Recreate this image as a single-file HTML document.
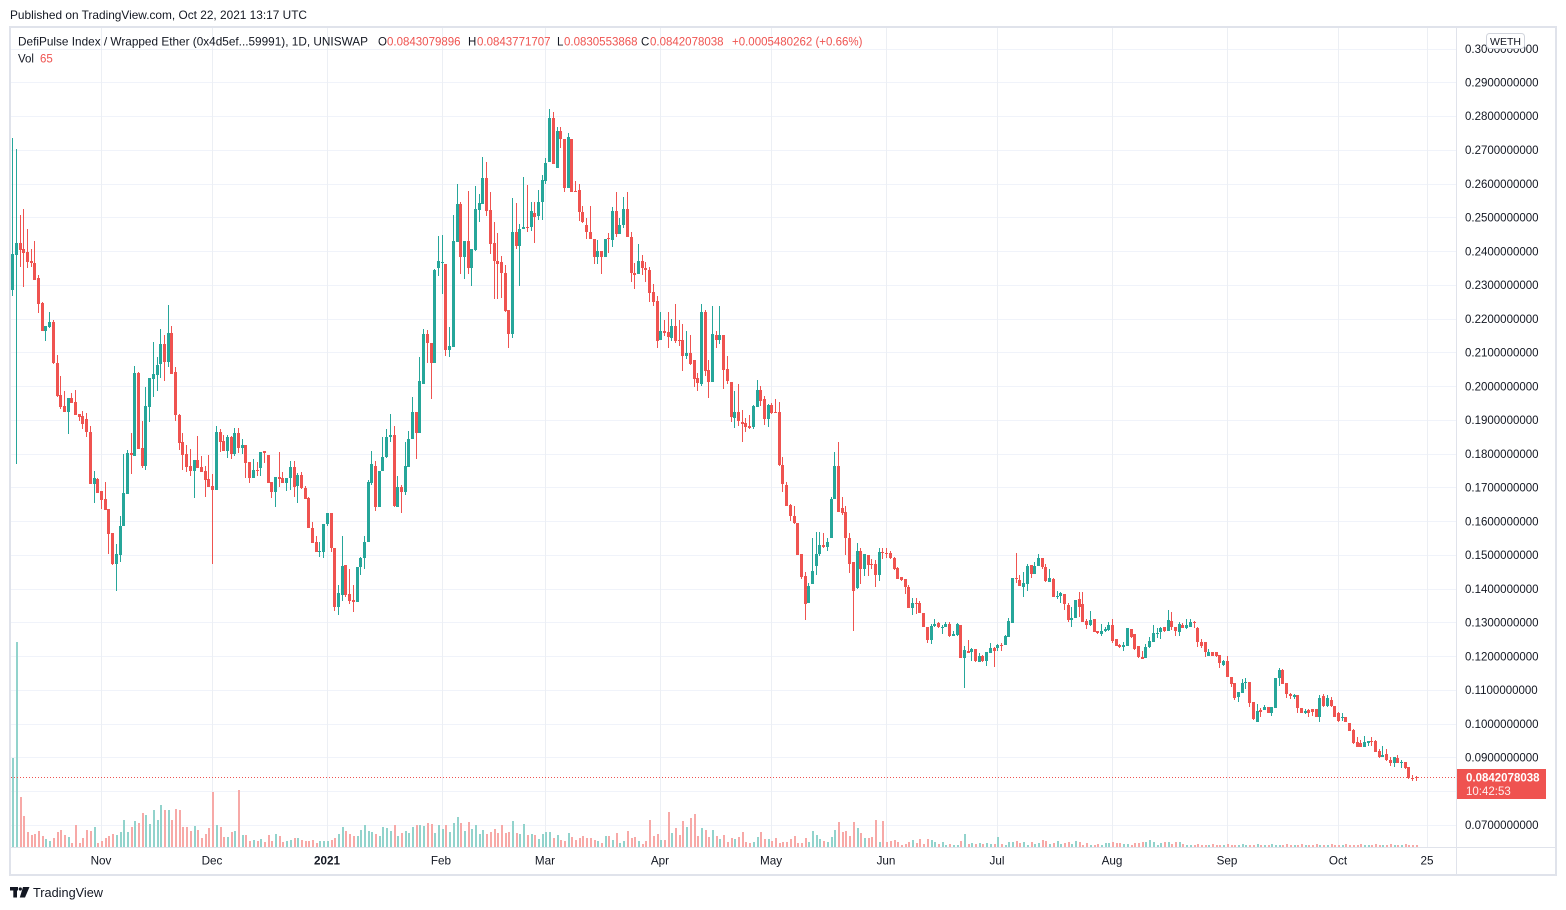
<!DOCTYPE html>
<html><head><meta charset="utf-8">
<style>
html,body{margin:0;padding:0;background:#fff;width:1566px;height:910px;overflow:hidden}
svg{display:block}
text{font-family:"Liberation Sans",Arial,sans-serif}
</style></head><body>
<svg id="s" width="1566" height="910" viewBox="0 0 1566 910" xmlns="http://www.w3.org/2000/svg">
<rect width="1566" height="910" fill="#fff"/>
<g id="grid" shape-rendering="crispEdges"></g>
<g id="vol" shape-rendering="crispEdges"></g>
<line x1="11" y1="777.5" x2="1456" y2="777.5" stroke="#ef5350" stroke-width="1" stroke-dasharray="1 2"/>
<g id="cdl" shape-rendering="crispEdges"></g>

<!-- frame -->
<g shape-rendering="crispEdges">
<rect x="10" y="27" width="1546" height="848" fill="none" stroke="#e0e3eb" stroke-width="2"/>
<line x1="1456.5" y1="28" x2="1456.5" y2="874" stroke="#e0e3eb" stroke-width="1"/>
<line x1="11" y1="847.5" x2="1555" y2="847.5" stroke="#e0e3eb" stroke-width="1"/>
</g>

<!-- header -->
<text x="10" y="19" font-size="12" fill="#131722" textLength="297" lengthAdjust="spacingAndGlyphs">Published on TradingView.com, Oct 22, 2021 13:17 UTC</text>

<!-- legend -->
<text x="18" y="45.5" font-size="11.8" fill="#131722" textLength="350" lengthAdjust="spacingAndGlyphs">DefiPulse Index / Wrapped Ether (0x4d5ef...59991), 1D, UNISWAP</text>
<text x="378" y="45.5" font-size="11.5" fill="#131722">O</text>
<text x="387" y="45.5" font-size="11.5" fill="#ef5350">0.0843079896</text>
<text x="468" y="45.5" font-size="11.5" fill="#131722">H</text>
<text x="477" y="45.5" font-size="11.5" fill="#ef5350">0.0843771707</text>
<text x="557" y="45.5" font-size="11.5" fill="#131722">L</text>
<text x="564" y="45.5" font-size="11.5" fill="#ef5350">0.0830553868</text>
<text x="641" y="45.5" font-size="11.5" fill="#131722">C</text>
<text x="650" y="45.5" font-size="11.5" fill="#ef5350">0.0842078038</text>
<text x="732" y="45.5" font-size="11.5" fill="#ef5350">+0.0005480262 (+0.66%)</text>
<text x="18" y="62.5" font-size="11.5" fill="#131722">Vol</text>
<text x="40" y="62.5" font-size="11.5" fill="#ef5350">65</text>

<!-- price axis labels -->
<g font-size="11.5" fill="#131722">
<text x="1465" y="53">0.3000000000</text>
<text x="1465" y="86.5">0.2900000000</text>
<text x="1465" y="120">0.2800000000</text>
<text x="1465" y="154">0.2700000000</text>
<text x="1465" y="188">0.2600000000</text>
<text x="1465" y="221.5">0.2500000000</text>
<text x="1465" y="255.5">0.2400000000</text>
<text x="1465" y="289">0.2300000000</text>
<text x="1465" y="323">0.2200000000</text>
<text x="1465" y="356.5">0.2100000000</text>
<text x="1465" y="390.5">0.2000000000</text>
<text x="1465" y="424">0.1900000000</text>
<text x="1465" y="458">0.1800000000</text>
<text x="1465" y="491.5">0.1700000000</text>
<text x="1465" y="525.5">0.1600000000</text>
<text x="1465" y="559">0.1500000000</text>
<text x="1465" y="593">0.1400000000</text>
<text x="1465" y="626.5">0.1300000000</text>
<text x="1465" y="660.5">0.1200000000</text>
<text x="1465" y="694">0.1100000000</text>
<text x="1465" y="728">0.1000000000</text>
<text x="1465" y="761.5">0.0900000000</text>
<text x="1465" y="829">0.0700000000</text>
</g>

<!-- WETH badge -->
<rect x="1486.5" y="33.5" width="38" height="15" rx="3" ry="3" fill="#fff" stroke="#d1d4dc" stroke-width="1"/>
<text x="1505.5" y="45" font-size="10.5" fill="#131722" text-anchor="middle">WETH</text>

<!-- current price label -->
<rect x="1457" y="769" width="89" height="30" fill="#ef5350"/>
<text x="1466" y="781.5" font-size="11.5" font-weight="bold" fill="#fff">0.0842078038</text>
<text x="1466" y="795" font-size="11.5" fill="#fff" fill-opacity="0.9">10:42:53</text>

<!-- time axis -->
<g font-size="11.7" fill="#131722" text-anchor="middle">
<text x="101" y="864.5">Nov</text>
<text x="212" y="864.5">Dec</text>
<text x="327" y="864.5" font-weight="bold">2021</text>
<text x="441" y="864.5">Feb</text>
<text x="545" y="864.5">Mar</text>
<text x="660" y="864.5">Apr</text>
<text x="771" y="864.5">May</text>
<text x="886" y="864.5">Jun</text>
<text x="997" y="864.5">Jul</text>
<text x="1112" y="864.5">Aug</text>
<text x="1227" y="864.5">Sep</text>
<text x="1338" y="864.5">Oct</text>
<text x="1427" y="864.5">25</text>
</g>

<!-- footer logo -->
<g fill="#131722">
<rect x="10" y="887" width="8" height="3.5"/>
<rect x="13.3" y="887" width="3.7" height="10.5"/>
<circle cx="20.3" cy="889" r="1.6"/>
<polygon points="23,887 29.5,887 25,897.5 19.8,897.5"/>
</g>
<text x="33" y="897" font-size="13" fill="#131722" textLength="70" lengthAdjust="spacingAndGlyphs">TradingView</text>
</svg>
<script>
(function(){
var segs=[
{x0:0,y0:100,s:3,d:[[37,570,462,113,588],[49,464,430,147,1092],[58,430,450,345,500],[70,447,458,327,560],[82,456,485,387,503],[91,483,490,447,500],[103,489,540,423,540],[115,534,611,525,638],[127,608,692,605,692],[136,692,678,678,722],[148,681,666,636,684],[160,666,789,660,792],[169,789,887,765,890],[181,885,920,828,926],[193,918,935,873,935],[202,935,894,894,1001],[214,894,908,879,908],[226,906,944,870,944],[238,941,950,941,962],[247,948,972,933,986],[259,957,996,939,1010],[271,996,1151,978,1151],[280,1151,1134,1113,1208],[292,1137,1178,1134,1178],[304,1173,1200,1173,1226],[316,1197,1229,1146,1229],[325,1227,1301,1227,1361],[337,1299,1391,1299,1394],[349,1391,1361,1331,1472],[358,1364,1278,1248,1385],[370,1277,1179,1062,1277],[382,1181,1059,1050,1181],[391,1059,1066,998,1121],[403,1067,819,798,1067],[415,819,1046,816,1046],[427,1044,1098,963,1103],[436,1098,918,861,1109],[448,920,834,834,965],[460,836,822,726,890],[469,824,795,771,872],[481,791,732,687,833],[493,732,786,705,843],[505,786,699,615,800],[514,699,821,678,821],[526,816,944,801,962],[538,944,1028,941,1049],[547,1026,1064,998,1109],[559,1062,1100,1035,1115],[571,1098,1112,1047,1127],[580,1112,1080,1080,1193],[592,1080,1103,1008,1103],[604,1101,1115,1068,1115],[616,1113,1139,1098,1190],[625,1137,1160,1065,1160],[637,1158,1169,1122,1391],[649,1169,996,978,1169],[658,996,1025,987,1055],[670,1023,1052,1005,1052],[682,1052,1011,1005,1073],[694,1011,1061,1008,1076],[703,1061,999,984,1067],[715,999,1043,984,1058],[727,1043,1035,1017,1061]]},
{x0:240,y0:100,s:3,d:[[16,1035,1088,1035,1133],[28,1087,1135,1087,1150],[40,1135,1110,1078,1135],[50,1110,1112,1087,1127],[62,1103,1057,1057,1127],[73,1053,1058,1053,1088],[85,1065,1150,1065,1150],[95,1147,1175,1147,1195],[106,1175,1132,1132,1222],[118,1132,1136,1057,1160],[128,1135,1148,1117,1150],[140,1148,1135,1135,1172],[151,1135,1102,1083,1170],[160,1102,1160,1083,1192],[172,1157,1125,1120,1210],[184,1125,1165,1117,1168],[196,1165,1198,1158,1198],[206,1193,1285,1190,1285],[217,1285,1328,1265,1330],[229,1327,1355,1307,1355],[239,1357,1353,1327,1372],[250,1355,1273,1273,1375],[262,1273,1240,1240,1278],[274,1240,1345,1240,1357],[284,1345,1520,1345,1532],[295,1520,1480,1455,1545],[307,1485,1398,1308,1502],[316,1395,1485,1395,1490],[328,1482,1502,1407,1512],[340,1500,1507,1455,1535],[350,1507,1402,1402,1507],[361,1402,1375,1370,1425],[373,1375,1327,1307,1408],[385,1325,1147,1140,1325],[394,1148,1092,1052,1155],[406,1098,1222,1083,1233],[418,1222,1113,1113,1222],[428,1113,1072,1012,1113],[439,1072,1012,987,1075],[450,1012,1005,942,1025],[462,1005,1218,977,1222],[472,1220,1160,1127,1222],[484,1160,1175,1155,1240],[496,1175,1098,1025,1185],[505,1100,1018,993,1102],[517,1018,935,890,1018],[529,935,998,935,1078],[539,998,843,770,998],[550,853,702,687,853],[562,702,730,690,790],[574,730,790,730,898],[584,790,510,507,790],[596,505,483,407,527],[607,488,486,405,583],[616,492,750,492,767],[628,750,738,680,770],[640,740,423,345,742],[652,425,312,252,425],[662,312,470,305,523],[673,470,423,423,538],[685,423,503,272,523],[695,503,447,447,557],[706,450,327,258,452],[718,330,310,282,365],[728,312,234,170,312],[740,234,332,185,347],[751,330,432,275,462],[762,430,483,365,598],[773,483,492,398,598],[784,487,520,467,595],[796,520,633,495,635],[805,630,702,630,745],[817,702,397,293,715],[829,397,437,308,448],[839,437,387,372,558],[850,387,380,230,387],[862,382,383,255,397],[873,382,333,305,392],[884,340,352,305,430],[896,347,307,270,360],[907,307,240,225,360],[916,242,188,173,252],[928,185,54,27,185],[940,54,193,37,193],[952,203,93,80,205],[962,93,118,80,143],[974,117,265,117,277],[985,265,112,98,265],[995,117,275,117,277],[1007,273,275,243,277],[1018,270,335,252,362],[1028,335,365,318,368],[1040,375,397,355,418],[1051,397,418,318,418],[1062,418,472,418,493],[1073,472,453,420,493],[1085,453,472,453,522],[1096,472,418,418,472],[1106,413,418,398,460],[1118,420,333,322,442],[1130,333,403,277,410],[1140,403,375,355,403],[1151,375,327,292,385],[1162,327,412,277,412],[1174,410,520,397,545],[1184,518,525,488,568],[1196,522,483,433,522]]},
{x0:0,y0:0,s:1,d:[[641.7,261,268,255,275],[645.4,268,270,262,282]]},
{x0:620,y0:280,s:3,d:[[88,-30,38,-40,65],[100,37,65,12,77],[112,63,182,48,203],[121,180,153,96,180],[133,153,158,120,167],[145,155,170,96,203],[154,173,138,117,182],[166,138,182,72,190],[178,180,182,120,197],[190,180,227,132,272],[199,227,219,153,237],[211,219,252,165,255],[223,240,297,240,320],[232,293,308,278,332],[244,312,96,72,317],[256,96,272,90,287],[265,270,305,240,353],[277,305,162,78,305],[289,165,180,153,203],[301,180,165,78,192],[310,165,270,165,328],[322,267,302,228,313],[334,307,410,307,425],[343,413,397,333,443],[355,397,422,312,437],[367,427,432,390,485],[376,430,440,413,455],[388,438,443,405,447],[400,440,378,375,447],[412,380,330,300,380],[421,330,362,318,377],[433,357,417,348,435],[445,417,375,372,440],[454,375,398,368,402],[466,397,398,357,400],[478,397,555,367,557],[490,555,613,530,635],[499,615,677,607,677],[511,675,707,672,722],[523,708,730,678,733],[532,730,825,730,825],[544,822,890,822,897],[556,887,973,875,1020],[565,968,917,910,968],[577,913,873,775,913],[589,857,822,757,885],[601,823,795,757,827],[610,795,800,758,805],[622,800,787,773,813],[634,775,657,650,775],[643,657,558,517,657],[655,558,697,487,697],[667,685,700,652,705],[679,697,773,677,825],[688,773,852,760,880],[700,847,932,845,1052],[712,925,813,790,927],[721,813,868,803,913],[733,868,822,822,887],[745,825,855,825,888],[754,853,855,838,867],[766,853,885,840,920],[778,885,817,803,902],[790,817,818,803,838],[799,818,820,803,835],[811,818,835,812,837],[823,833,867,830,870],[832,865,897,860,897],[844,890,900,890,903],[856,897,922,897,942],[865,920,983,915,985],[877,983,970,955,1005],[889,970,970,955,1003],[901,968,998,963,998],[910,998,1040,998,1040],[922,1040,1080,1040,1088],[934,1080,1037,1033,1092],[943,1037,1033,1018,1040],[955,1030,1040,1027,1045],[967,1045,1040,1035,1062],[979,1040,1033,1025,1040],[988,1033,1068,1025,1072],[1000,1068,1063,1053,1068],[1012,1065,1033,1028,1068],[1021,1035,1133,1035,1133],[1033,1135,1110,1097,1223],[1045,1113,1118,1080,1120],[1054,1115,1108,1105,1143],[1066,1108,1143,1108,1145],[1078,1145,1128,1120,1145],[1090,1128,1142,1125,1145],[1099,1142,1117,1117,1157],[1111,1118,1105,1090,1118],[1123,1103,1112,1100,1160],[1132,1105,1095,1093,1112],[1144,1095,1095,1090,1112],[1156,1095,1068,1065,1095],[1168,1070,1023,1013,1072],[1177,1028,893,893,1028]]},
{x0:1000,y0:540,s:3,d:[[49,113,118,38,128],[61,120,137,105,137],[70,140,128,97,170],[82,133,77,73,152],[94,75,103,75,113],[103,101,78,67,101],[115,77,55,42,77],[127,55,80,55,87],[139,80,122,72,125],[148,125,113,87,127],[160,117,170,113,170],[172,172,168,152,178],[181,168,160,157,188],[193,162,193,162,210],[205,195,240,190,245],[217,240,235,200,260],[226,233,180,180,235],[238,178,200,157,230],[250,193,245,157,245],[259,242,255,237,268],[271,255,240,213,257],[283,238,277,238,277],[292,273,280,273,282],[304,282,273,253,287],[316,272,267,262,277],[328,270,255,245,272],[337,255,303,237,308],[349,298,317,298,318],[361,315,320,312,325],[370,320,315,305,332],[382,317,265,263,317],[394,268,292,268,295],[406,283,327,283,330],[415,318,352,318,353],[427,350,358,333,358],[439,353,320,312,353],[448,322,302,292,325],[460,305,280,255,305],[472,280,278,265,295],[481,277,265,262,298],[493,262,272,260,275],[505,272,240,210,272],[517,242,260,215,270],[526,262,272,262,287],[538,275,252,247,287],[550,255,263,248,265],[559,263,255,237,267],[571,260,245,237,262],[583,245,250,243,265],[595,265,307,262,320],[604,307,318,297,325],[616,307,337,307,352],[628,348,335,327,348],[637,335,347,335,347],[649,337,348,335,350],[661,345,368,345,385],[670,375,363,360,378],[682,363,410,348,410],[694,410,432,410,440],[706,430,473,428,480],[715,470,457,455,485],[727,460,428,418,460],[739,430,425,415,448],[748,425,488,425,500],[760,487,538,487,540],[772,545,512,493,545],[781,510,515,505,530],[793,510,502,495,510],[805,502,518,502,518],[817,518,500,500,527],[826,503,415,415,505],[838,415,390,383,437],[850,390,432,387,432],[859,430,463,430,473],[871,463,467,460,478],[883,470,465,462,478],[895,465,505,465,518],[904,505,520,505,520],[916,518,512,507,522],[928,510,518,508,530],[937,508,515,508,528],[949,507,532,507,532],[961,532,475,465,545],[970,468,497,463,500],[982,498,475,465,500],[994,480,498,470,502],[1006,498,532,498,532],[1015,518,542,515,545],[1027,533,532,520,542],[1039,532,545,532,545],[1048,548,572,548,572],[1060,570,610,567,612],[1072,607,620,590,620],[1084,608,620,600,622],[1093,622,605,588,622],[1105,610,603,603,618],[1117,603,605,592,618],[1126,603,635,600,637],[1138,632,650,628,655],[1150,650,645,618,652],[1159,642,660,628,663],[1171,660,668,650,677],[1183,668,652,652,680],[1195,655,668,645,670],[1204,670,665,660,683],[1216,667,685,667,687],[1228,682,715,682,717],[1237,715,716,705,722],[1249,710,711,709,723]]}
];
var N=380,X0=12.1,DX=3.7036,C=new Array(N),i;
segs.forEach(function(sg){var prev=-1;sg.d.forEach(function(e){var x=sg.x0+e[0]/sg.s;var k=Math.round((x-X0)/DX);if(k<=prev)k=prev+1;prev=k;if(k<0||k>=N)return;C[k]={o:sg.y0+e[1]/sg.s,c:sg.y0+e[2]/sg.s,h:sg.y0+e[3]/sg.s,l:sg.y0+e[4]/sg.s};});});
for(i=0;i<N;i++){if(!C[i]){var p=C[i-1];C[i]={o:p.c,c:p.c,h:p.c-2,l:p.c+2};}}
var T=[0,0,66,123,171,180,177,168,183,192,198,189,171,165,180,186,204,150,204,189,165,168,156,204,198,189,183,177,180,171,135,171,156,138,144,114,120,147,105,135,90,105,105,135,102,105,156,156,168,153,165,189,177,159,51,150,156,186,186,171,168,45,180,180,198,195,198,192,201,180,198,177,183,201,198,195,189,189,195,198,198,195,204,198,198,198,195,189,177,156,168,177,183,183,165,150,168,171,177,183,156,159,168,150,183,174,168,174,156,150,150,153,144,147,174,150,162,150,171,144,126,144,168,141,162,150,177,
165,177,171,162,174,150,174,171,138,174,177,147,180,177,180,192,177,171,171,189,180,195,198,174,186,195,189,183,189,189,195,198,204,183,183,195,174,204,198,168,189,186,198,207,198,135,
183,177,195,195,111,174,159,180,138,156,129,117,183,159,165,186,165,183,192,180,201,189,192,186,171,201,204,201,186,171,192,192,198,189,204,201,201,192,183,204,204,
189,201,168,180,192,198,201,186,165,141,171,168,183,141,159,174,189,189,186,135,201,138,201,198,195,201,210,207,201,195,204,192,207,192,195,201,207,
201,210,207,210,210,198,177,207,204,207,204,207,204,207,207,186,207,210,201,201,198,204,201,210,201,207,204,195,198,207,204,198,207,204,201,207,198,201,210,204,210,210,207,210,204,204,201,204,204,207,207,210,204,204,201,201,195,201,210,204,201,201,207,201,201];
var g='',v='',gr='';
for(i=0;i<N;i++){
 var k=C[i],cx=Math.round(X0+i*DX),up=k.c<k.o;
 var col=up?'#26a69a':'#ef5350';
 var top=Math.min(k.o,k.c),bot=Math.max(k.o,k.c);
 var hi=Math.min(k.h,top),lo=Math.max(k.l,bot);
 var t=Math.round(top),b=Math.round(bot);if(b<=t)b=t+1;
 var wh=Math.round(hi),wl=Math.round(lo);if(wl<=wh)wl=wh+1;
 g+='<rect x="'+cx+'" y="'+wh+'" width="1" height="'+(wl-wh)+'" fill="'+col+'"/>';
 g+='<rect x="'+(cx-1)+'" y="'+t+'" width="3" height="'+(b-t)+'" fill="'+col+'"/>';
 var h;
 if(i===0)h=89;else if(i===1)h=205;else if(i<T.length)h=(216-T[i])/3;else h=(i%4===0)?3:1.7;
 h=Math.max(1,Math.round(h));
 v+='<rect x="'+cx+'" y="'+(847-h)+'" width="2" height="'+h+'" fill="'+(up?'#92d3cc':'#f7a9a7')+'"/>';
}
for(var q=7;q<=30;q++){var y=Math.round(825-(q/100-0.07)*3376)+0.5;gr+='<line x1="11" y1="'+y+'" x2="1456" y2="'+y+'" stroke="#f0f3fa" stroke-width="1"/>';}
[24,54,85,116,144,175,205,236,266,297,328,358,382].forEach(function(d){var x=Math.round(X0+d*DX)+0.5;gr+='<line x1="'+x+'" y1="28" x2="'+x+'" y2="847" stroke="#eceff4" stroke-width="1"/>';});
document.getElementById('grid').innerHTML=gr;
document.getElementById('vol').innerHTML=v;
document.getElementById('cdl').innerHTML=g;
})();
</script>
</body></html>
